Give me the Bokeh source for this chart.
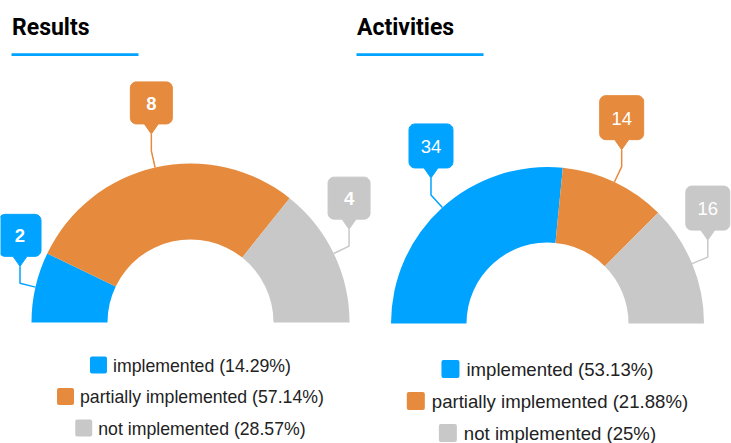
import math
from bokeh.plotting import figure
from bokeh.models import Range1d, ColumnDataSource
from bokeh.core.properties import value
from bokeh.embed import file_html
from bokeh.resources import INLINE

# ---------------- data ----------------
categories = ["implemented", "partially implemented", "not implemented"]
results_values = [2, 8, 4]
activities_values = [34, 14, 16]
chart_titles = ["Results", "Activities"]
colors = ["#00a3ff", "#e68a3d", "#c8c8c8"]

# ---------------- layout ----------------
W, H = 731, 443
p = figure(width=W, height=H, x_range=Range1d(0, W), y_range=Range1d(-H, 0),
           output_backend="svg", toolbar_location=None, x_axis_type=None, y_axis_type=None,
           min_border=0, outline_line_color=None)
p.xgrid.grid_line_color = None
p.ygrid.grid_line_color = None

FONT = "Liberation Sans"
TITLE_FONT = "Roboto"
BASE_FIX = 0.31  # empirical shift of the rendered alphabetic baseline (em)

ARIAL = {" ": 278, "(": 333, ")": 333, "%": 889, ".": 278, "a": 556, "c": 500, "d": 556, "e": 556,
         "i": 222, "l": 222, "m": 833, "n": 556, "o": 556, "p": 556, "r": 333, "t": 278, "y": 500}


def text_width(s, fs):
    return sum(ARIAL.get(ch, 556) for ch in s) / 1000.0 * fs


def pct(v, total):
    s = f"{v / total * 100 + 1e-9:.2f}"
    return s.rstrip("0").rstrip(".")


def callout(cx, bottom, w, h, r=6, pw=7, ph=10):
    xs, ys = [cx], [bottom - ph]
    xs.append(cx + pw); ys.append(bottom)
    corners = [(cx + w / 2 - r, bottom + r, -90, 0), (cx + w / 2 - r, bottom + h - r, 0, 90),
               (cx - w / 2 + r, bottom + h - r, 90, 180), (cx - w / 2 + r, bottom + r, 180, 270)]
    for (ccx, ccy, a0, a1) in corners:
        for k in range(7):
            a = math.radians(a0 + (a1 - a0) * k / 6)
            xs.append(ccx + r * math.cos(a)); ys.append(ccy + r * math.sin(a))
    xs.append(cx - pw); ys.append(bottom)
    return xs, ys


def draw_chart(vals, title, cx, cy, r_in, r_out, title_x, fs_leg, sq, gap, rows_y,
               box_w, box_h, lab_fs, lab_bold):
    total = float(sum(vals))
    cum = 0.0
    starts, ends = [], []
    for v in vals:
        starts.append(math.pi - math.pi * cum / total)
        cum += v
        ends.append(math.pi - math.pi * cum / total)
    src = ColumnDataSource(dict(x=[cx] * len(vals), y=[-cy] * len(vals), s=starts, e=ends, c=colors))
    p.annular_wedge(x="x", y="y", inner_radius=r_in, outer_radius=r_out, start_angle="s", end_angle="e",
                    direction="clock", fill_color="c", line_color=None, source=src)

    # callout labels
    for v, a0, a1, col in zip(vals, starts, ends, colors):
        mid = (a0 + a1) / 2
        ax, ay = cx + r_out * math.cos(mid), -cy + r_out * math.sin(mid)
        kx, ky = cx + (r_out + 17) * math.cos(mid), -cy + (r_out + 17) * math.sin(mid)
        bx = min(max(kx, box_w / 2 - 1.5), W - box_w / 2 - 1)
        tip = ky + 17
        p.line([ax, bx, bx], [ay, ky, tip], line_color=col, line_width=1.5)
        bottom = tip + 10
        xs, ys = callout(bx, bottom, box_w, box_h)
        p.patch(xs, ys, fill_color=col, line_color=col, line_width=1)
        p.text(x=[bx], y=[bottom + box_h / 2 - 0.716 * lab_fs / 2 + 0.5 + BASE_FIX * lab_fs],
               text=[str(v)], text_align="center", text_baseline="alphabetic", text_color="white",
               text_font=value(FONT), text_font_size=f"{lab_fs}px",
               text_font_style="bold" if lab_bold else "normal")

    # title and underline
    tfs = 23
    p.text(x=[title_x], y=[-34.3 + BASE_FIX * tfs], text=[title], text_align="left",
           text_baseline="alphabetic", text_color="#000000", text_font=value(TITLE_FONT),
           text_font_size=f"{tfs}px", text_font_style="bold")
    p.quad(left=[title_x - 0.5], right=[title_x + 126.5], top=[-52.7], bottom=[-55.5],
           fill_color=colors[0], line_color=None)

    # legend rows, each centred under the donut
    for cat, v, col, ry in zip(categories, vals, colors, rows_y):
        label = f"{cat} ({pct(v, total)}%)"
        tw = text_width(label, fs_leg)
        x0 = cx - (sq + gap + tw) / 2
        p.quad(left=[x0], right=[x0 + sq], top=[-(ry - sq / 2)], bottom=[-(ry + sq / 2)],
               fill_color=col, line_color=None, border_radius=2)
        p.text(x=[x0 + sq + gap], y=[-(ry + 0.36 * fs_leg) + BASE_FIX * fs_leg], text=[label],
               text_align="left", text_baseline="alphabetic", text_color="#222222",
               text_font=value(FONT), text_font_size=f"{fs_leg}px")


draw_chart(results_values, chart_titles[0], 190, 322, 83, 159, 11.5, 17.7, 17, 6.0,
           [364.5, 396, 427.5], 42, 42, 18.5, True)
draw_chart(activities_values, chart_titles[1], 547, 323, 81, 156.5, 356.5, 18.6, 18, 7.0,
           [368.5, 400.5, 432.5], 44, 44, 18.5, False)

open("out.html", "w").write(file_html(p, INLINE))
